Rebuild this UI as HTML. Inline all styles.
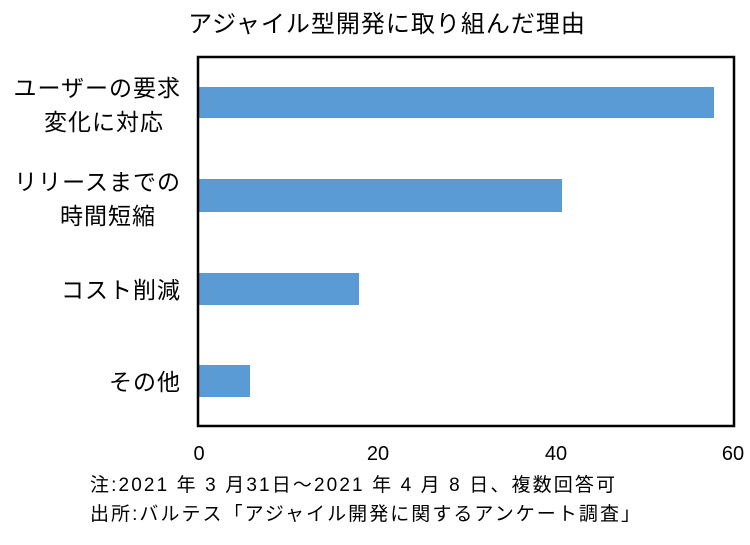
<!DOCTYPE html>
<html><head><meta charset="utf-8"><style>
body{margin:0;background:#fff;}
svg text{font-family:"Liberation Sans","Noto Sans CJK JP",sans-serif;fill:#000;}
</style></head><body>
<svg width="750" height="540" xmlns="http://www.w3.org/2000/svg">
<text x="387" y="32" font-size="24" text-anchor="middle" letter-spacing="1">アジャイル型開発に取り組んだ理由</text>
<rect x="199" y="87" width="515" height="31" fill="#5b9bd5"/>
<rect x="199" y="179" width="363" height="33" fill="#5b9bd5"/>
<rect x="199" y="273" width="160" height="32" fill="#5b9bd5"/>
<rect x="199" y="365" width="51" height="32" fill="#5b9bd5"/>
<rect x="198" y="57" width="536" height="369" fill="none" stroke="#000" stroke-width="2.5"/>
<g font-size="23" text-anchor="end" letter-spacing="1">
<text x="181" y="96">ユーザーの要求</text>
<text x="164" y="130">変化に対応</text>
<text x="181" y="190">リリースまでの</text>
<text x="156" y="224">時間短縮</text>
<text x="181" y="298">コスト削減</text>
<text x="181" y="390">その他</text>
</g>
<g font-size="20" text-anchor="middle">
<text x="199" y="460">0</text>
<text x="378" y="460">20</text>
<text x="556" y="460">40</text>
<text x="733" y="460">60</text>
</g>
<text x="90" y="491" font-size="19" textLength="525" lengthAdjust="spacing">注:2021 年 3 月31日～2021 年 4 月 8 日、複数回答可</text>
<text x="90" y="520" font-size="19" textLength="550" lengthAdjust="spacing">出所:バルテス「アジャイル開発に関するアンケート調査」</text>
</svg>
</body></html>
